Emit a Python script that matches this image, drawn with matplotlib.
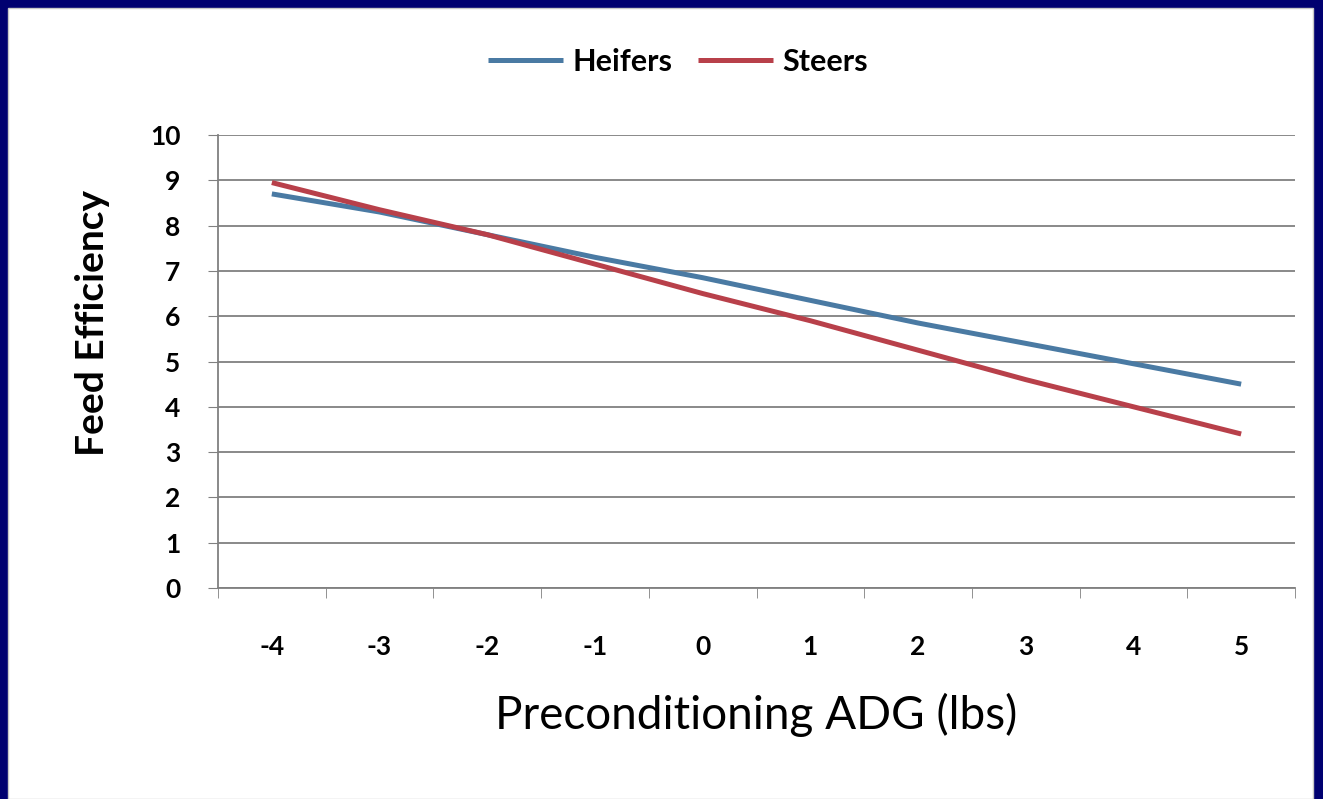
import matplotlib.pyplot as plt
from matplotlib.patches import Rectangle

# Feed efficiency vs preconditioning ADG
adg = ['-4', '-3', '-2', '-1', '0', '1', '2', '3', '4', '5']
heifers = [8.7, 8.3, 7.8, 7.3, 6.85, 6.35, 5.85, 5.4, 4.95, 4.5]
steers = [8.95, 8.35, 7.8, 7.15, 6.5, 5.9, 5.25, 4.6, 4.0, 3.4]

plt.rcParams['font.family'] = ['Lato', 'DejaVu Sans']

W, H = 1323, 799
fig = plt.figure(figsize=(W / 100, H / 100), dpi=100, facecolor='#000070')
# white panel inside the navy frame
fig.patches.append(Rectangle((8 / W, 0), (W - 18) / W, (H - 8) / H,
                             transform=fig.transFigure, facecolor='white',
                             edgecolor='#c8c8c8', lw=1, zorder=-5))

ax = fig.add_axes([218 / W, (H - 588) / H, (1295 - 218) / W, (588 - 135) / H])
ax.set_zorder(2)
ax.set_facecolor('white')
x = range(len(adg))
ax.plot(x, heifers, color='#4a7aa3', lw=3.6, label='Heifers', solid_capstyle='butt')
ax.plot(x, steers, color='#b8404a', lw=3.6, label='Steers', solid_capstyle='butt')

ax.set_xlim(-0.5, len(adg) - 0.5)
ax.set_ylim(0, 10)
ax.set_yticks(range(0, 11))
ax.set_xticks(list(x))
ax.set_xticklabels(adg)
ax.set_xticks([i - 0.5 for i in range(len(adg) + 1)], minor=True)
ax.tick_params(axis='x', which='major', length=0, pad=34, labelsize=19)
ax.tick_params(axis='x', which='minor', length=7, color='#808080', direction='out')
ax.tick_params(axis='y', length=7, color='#808080', pad=20, labelsize=19)
for lab in ax.get_xticklabels() + ax.get_yticklabels():
    lab.set_fontweight('bold')

ax.grid(axis='y', color='#808080', lw=1.3)
ax.set_axisbelow(True)
for s in ['top', 'right']:
    ax.spines[s].set_visible(False)
for s in ['left', 'bottom']:
    ax.spines[s].set_color('#808080')
    ax.spines[s].set_linewidth(1.3)

ax.set_ylabel('Feed Efficiency', fontsize=28, fontweight='bold')
ax.yaxis.set_label_coords(-0.10, 0.585)
ax.set_xlabel('Preconditioning ADG (lbs)', fontsize=33, labelpad=24)

fig.legend(loc='center', bbox_to_anchor=(678 / W, 1 - 62 / H), ncol=2,
           frameon=False, handlelength=2.45, handletextpad=0.3, columnspacing=0.85,
           prop={'size': 22, 'weight': 'bold'})

fig.savefig('out.png', dpi=100, facecolor=fig.get_facecolor())
